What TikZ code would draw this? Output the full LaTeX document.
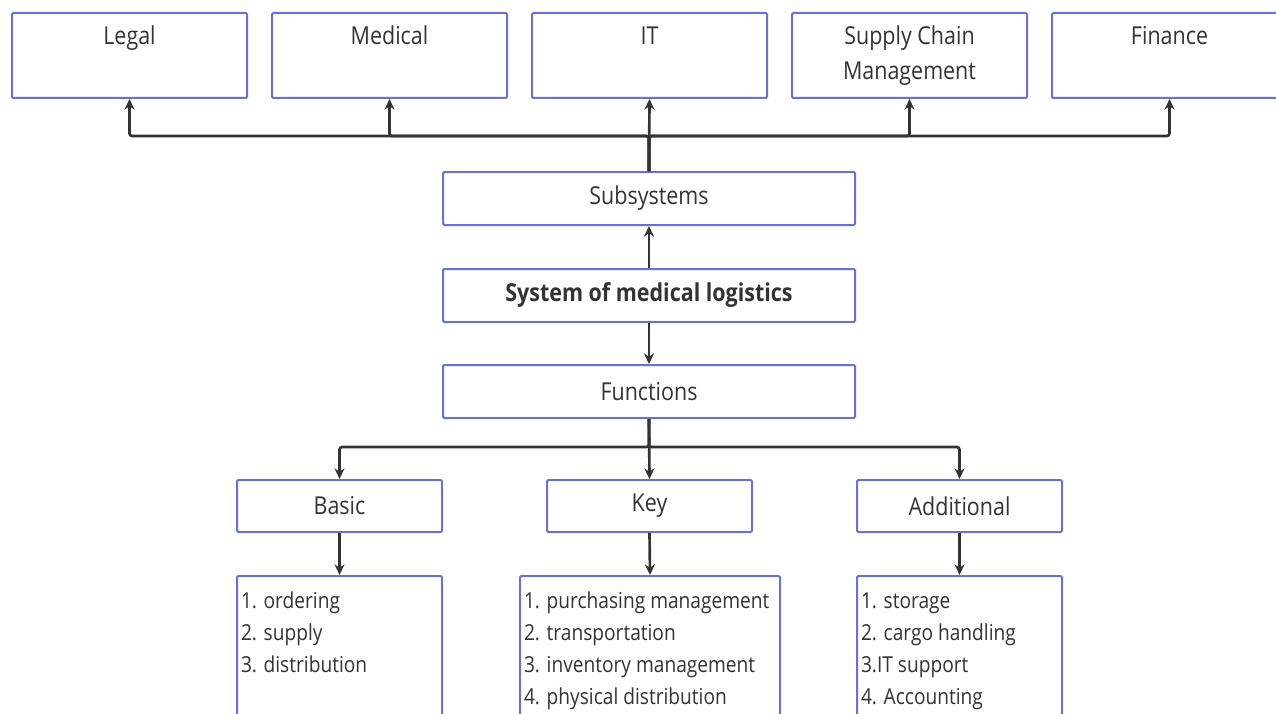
\documentclass[tikz,border=0pt]{standalone}
\usepackage{fontspec}
\setmainfont{Open Sans}[FakeStretch=0.87]
\usetikzlibrary{arrows.meta,calc}
\definecolor{boxblue}{RGB}{105,112,214}
\definecolor{ink}{RGB}{51,51,51}
\begin{document}
\begin{tikzpicture}[x=0.75pt,y=-0.75pt,
  box/.style={draw=boxblue, line width=1.5pt, rounded corners=1pt, inner sep=0pt, fill=white, text=ink},
  arr/.style={draw=ink, line width=2pt, rounded corners=2pt, -{Stealth[length=8pt,width=7.5pt]}},
  topbox/.style={box},
  midbox/.style={box, minimum width=309pt, minimum height=39.75pt, font=\fontsize{18.5}{22}\selectfont},
  catbox/.style={box, minimum width=153.75pt, minimum height=39pt, font=\fontsize{18.5}{22}\selectfont},
]
\useasboundingbox (0,0) rectangle (1276,713);
\newcommand{\toptext}[1]{\parbox[c][63.75pt][t]{176.25pt}{\centering\fontsize{18.5}{26}\selectfont\rule{0pt}{24pt}#1}}
\newcommand{\listtext}[2]{\parbox[c][123.75pt][t]{#1}{\raggedright\fontsize{16.5}{24}\selectfont\rule{0pt}{24pt}\hspace*{3pt}#2}}
% top boxes
\node[topbox] (legal) at (129.5,55.5) {\toptext{Legal}};
\node[topbox] (med)   at (389.5,55.5) {\toptext{Medical}};
\node[topbox] (it)    at (649.5,55.5) {\toptext{IT}};
\node[topbox] (scm)   at (909.5,55.5) {\toptext{Supply Chain\\Management}};
\node[topbox] (fin)   at (1169.5,55.5) {\toptext{Finance}};
% middle column
\node[midbox] (sub) at (649,198.5) {Subsystems};
\node[midbox, font=\fontsize{18.5}{22}\bfseries\selectfont] (sys) at (649,295.5) {System of medical logistics};
\node[midbox] (fun) at (649,391.5) {Functions};
% categories
\node[catbox] (basic) at (339.5,506) {Basic};
\node[catbox] (key)   at (649.5,506) {Key};
\node[catbox] (add)   at (959.5,506) {Additional};
% lists
\node[box, anchor=north] (lbasic) at (339.5,575) {\listtext{153.75pt}{1. ordering\\\hspace*{3pt}2. supply\\\hspace*{3pt}3. distribution}};
\node[box, anchor=north] (lkey) at (650,575) {\listtext{195pt}{1. purchasing management\\\hspace*{3pt}2. transportation\\\hspace*{3pt}3. inventory management\\\hspace*{3pt}4. physical distribution}};
\node[box, anchor=north] (ladd) at (959.5,575) {\listtext{153.75pt}{1. storage\\\hspace*{3pt}2. cargo handling\\\hspace*{3pt}3.IT support\\\hspace*{3pt}4. Accounting}};
% buses
\coordinate (tbus) at (650,136);
\coordinate (fbus) at (650,447);
% connectors top
\draw[arr] (sub.north) -- (sub.north |- tbus) -| (legal.south);
\draw[arr] (sub.north) -- (sub.north |- tbus) -| (med.south);
\draw[arr] (sub.north) -- (it.south);
\draw[arr] (sub.north) -- (sub.north |- tbus) -| (scm.south);
\draw[arr] (sub.north) -- (sub.north |- tbus) -| (fin.south);
% middle
\draw[arr] (sys.north) -- (sub.south);
\draw[arr] (sys.south) -- (fun.north);
% functions
\draw[arr] (fun.south) -- (fun.south |- fbus) -| (basic.north);
\draw[arr] (fun.south) -- (key.north);
\draw[arr] (fun.south) -- (fun.south |- fbus) -| (add.north);
% lists
\draw[arr] (basic.south) -- (lbasic.north);
\draw[arr] (key.south) -- (lkey.north);
\draw[arr] (add.south) -- (ladd.north);
\end{tikzpicture}
\end{document}
